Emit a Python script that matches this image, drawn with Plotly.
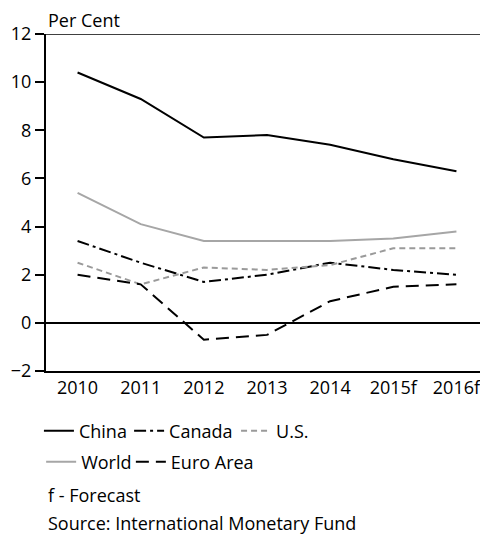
import plotly.graph_objects as go

years = ["2010", "2011", "2012", "2013", "2014", "2015f", "2016f"]
china = [10.4, 9.3, 7.7, 7.8, 7.4, 6.8, 6.3]
canada = [3.4, 2.5, 1.7, 2.0, 2.5, 2.2, 2.0]
us = [2.5, 1.6, 2.3, 2.2, 2.4, 3.1, 3.1]
world = [5.4, 4.1, 3.4, 3.4, 3.4, 3.5, 3.8]
euro = [2.0, 1.6, -0.7, -0.5, 0.9, 1.5, 1.6]
y_ticks = [-2, 0, 2, 4, 6, 8, 10, 12]

FONT = "Open Sans"
FS = 18

fig = go.Figure()
series = [
    ("China", china, dict(color="black", width=2, dash="solid"), "legend"),
    ("Canada", canada, dict(color="black", width=2, dash="12px,4px,3px,4px"), "legend2"),
    ("U.S.", us, dict(color="#9a9a9a", width=2, dash="6px,4px"), "legend3"),
    ("World", world, dict(color="#a6a6a6", width=2, dash="solid"), "legend4"),
    ("Euro Area", euro, dict(color="black", width=2, dash="13px,7px"), "legend5"),
]
for name, vals, ln, lg in series:
    fig.add_trace(go.Scatter(x=years, y=vals, name=name, mode="lines", line=ln, legend=lg))

def leg(x, y):
    return dict(orientation="h", x=x, xanchor="left", y=y, yanchor="middle",
                font=dict(size=FS, family=FONT), itemwidth=30,
                bgcolor="rgba(0,0,0,0)", borderwidth=0)

row1, row2 = -0.178, -0.270
fig.update_layout(
    width=480, height=527,
    margin=dict(l=38, r=0, t=26, b=164),
    paper_bgcolor="white", plot_bgcolor="white",
    font=dict(family=FONT, size=FS, color="black"),
    showlegend=True,
    legend=leg(-0.016, row1),
    legend2=leg(0.188, row1),
    legend3=leg(0.430, row1),
    legend4=leg(-0.011, row2),
    legend5=leg(0.192, row2),
    xaxis=dict(
        type="category", range=[-0.5, 6.5], showgrid=False,
        showline=True, linecolor="black", linewidth=1.5,
        ticks="", tickfont=dict(size=FS), fixedrange=True,
    ),
    yaxis=dict(
        range=[-2, 12], tickvals=y_ticks, showgrid=False,
        showline=True, linecolor="black", linewidth=2,
        ticks="outside", ticklen=9, tickwidth=1.5, tickcolor="black",
        zeroline=True, zerolinecolor="black", zerolinewidth=1.5,
        tickfont=dict(size=FS), fixedrange=True,
    ),
    shapes=[dict(type="line", xref="paper", yref="y", x0=0, x1=1, y0=12, y1=12,
                 line=dict(color="black", width=1.5))],
    annotations=[
        dict(text="Per Cent", xref="paper", yref="paper", x=0, y=1, yshift=0,
             xanchor="left", yanchor="bottom", showarrow=False, font=dict(size=FS)),
        dict(text="f - Forecast", xref="paper", yref="paper", x=0, y=-0.368,
             xanchor="left", yanchor="middle", showarrow=False, font=dict(size=FS)),
        dict(text="Source: International Monetary Fund", xref="paper", yref="paper",
             x=0, y=-0.451, xanchor="left", yanchor="middle",
             showarrow=False, font=dict(size=FS)),
    ],
)

fig.write_html("out.html")
